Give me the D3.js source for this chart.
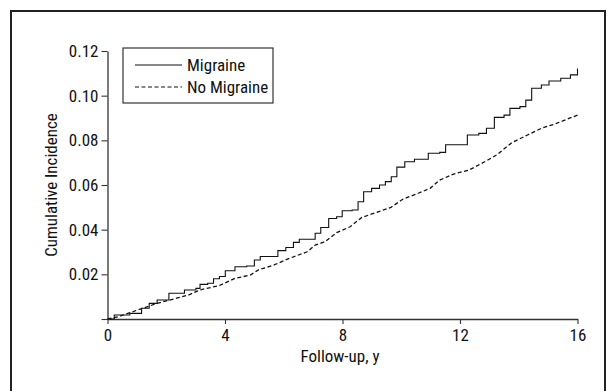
<!DOCTYPE html>
<html><head><meta charset="utf-8">
<script src="https://cdn.jsdelivr.net/npm/d3@7/dist/d3.min.js"></script>
<style>
body{margin:0;background:#fff;overflow:hidden;}
svg{display:block;}
text{font-family:"Liberation Sans Narrow","Arial Narrow","Nimbus Sans Narrow","Roboto Condensed","Liberation Sans",sans-serif;fill:#111;}
</style></head><body>
<script>
const seriesNames = ["Migraine", "No Migraine"];
const migraineX = [0,0.23,0.76,1.16,1.42,1.69,2.09,2.62,3.01,3.15,3.41,3.61,3.81,4.01,4.34,4.74,5.0,5.2,5.6,5.8,6.07,6.33,6.53,6.87,7.07,7.26,7.53,7.8,7.99,8.33,8.53,8.72,8.99,9.26,9.46,9.66,9.85,10.12,10.45,10.92,11.31,11.51,12.25,12.64,12.9,13.17,13.5,13.7,14.04,14.24,14.44,14.77,15.03,15.43,15.76,16.0];
const migraineY = [0,0.0018,0.0025,0.0048,0.007,0.0085,0.0115,0.013,0.0137,0.0155,0.016,0.018,0.019,0.0216,0.0234,0.0237,0.0264,0.028,0.028,0.0306,0.032,0.0343,0.0357,0.0357,0.0384,0.041,0.045,0.0458,0.0485,0.0488,0.0525,0.057,0.0585,0.06,0.0615,0.0637,0.068,0.0704,0.0715,0.0742,0.0746,0.078,0.0824,0.0831,0.0854,0.0903,0.0913,0.0943,0.0951,0.098,0.1033,0.1048,0.1066,0.1078,0.1093,0.1122];
const noMigraineX = [0,0.36,1.02,1.69,2.35,2.75,3.15,3.81,4.34,4.87,5.14,5.67,6.2,6.8,7.07,7.4,7.8,8.26,8.66,9.13,9.65,10.05,10.58,10.98,11.31,11.78,12.31,12.84,13.24,13.77,14.3,14.77,15.23,16.0];
const noMigraineY = [0,0.001,0.004,0.007,0.0093,0.0107,0.013,0.015,0.0182,0.0197,0.022,0.0242,0.0272,0.0301,0.0331,0.0346,0.0387,0.0413,0.0455,0.0476,0.05,0.0536,0.0563,0.0585,0.0622,0.0649,0.0667,0.0704,0.0734,0.079,0.0824,0.0854,0.0873,0.0913];
const xTicks = [0,4,8,12,16];
const yTicks = [0,0.02,0.04,0.06,0.08,0.10,0.12];
const xLabel = "Follow-up, y";
const yLabel = "Cumulative Incidence";

const W = 612, H = 391;
const svg = d3.select("body").append("svg").attr("width", W).attr("height", H);

// outer frame
svg.append("rect").attr("x", 11).attr("y", 11).attr("width", 594).attr("height", 420)
  .attr("fill", "none").attr("stroke", "#222").attr("stroke-width", 2);

const x = d3.scaleLinear().domain([0,16]).range([107.5, 577.5]);
const y = d3.scaleLinear().domain([0,0.12]).range([319, 51]);

const FONT = '"Liberation Sans Narrow","Arial Narrow","Roboto Condensed",sans-serif';
const xAxis = svg.append("g").attr("transform", "translate(0,319)")
  .call(d3.axisBottom(x).tickValues(xTicks).tickFormat(d3.format("d")).tickSize(5).tickPadding(5).tickSizeOuter(0));
const yAxis = svg.append("g").attr("transform", "translate(107.5,0)")
  .call(d3.axisLeft(y).tickValues(yTicks).tickFormat(d => d === 0 ? "" : d3.format(".2f")(d)).tickSize(6).tickPadding(3).tickSizeOuter(0));
[xAxis, yAxis].forEach(g => {
  g.selectAll("path.domain").attr("stroke", "#333").attr("stroke-width", 1.3);
  g.selectAll(".tick line").attr("stroke", "#333").attr("stroke-width", 1.1);
  g.selectAll("text").attr("font-size", 17).attr("fill", "#111").style("font-family", FONT);
});

const mig = migraineX.map((v,i) => [v, migraineY[i]]);
const nomig = noMigraineX.map((v,i) => [v, noMigraineY[i]]);

svg.append("path").datum(mig)
  .attr("d", d3.line().x(d => x(d[0])).y(d => y(d[1])).curve(d3.curveStepAfter))
  .attr("fill", "none").attr("stroke", "#111").attr("stroke-width", 1.1);
svg.append("path").datum(nomig)
  .attr("d", d3.line().x(d => x(d[0])).y(d => y(d[1])).curve(d3.curveLinear))
  .attr("fill", "none").attr("stroke", "#111").attr("stroke-width", 1.3).attr("stroke-dasharray", "4,2.5");

// axis titles
svg.append("text").attr("x", 340).attr("y", 362).attr("text-anchor", "middle").attr("font-size", 17).text(xLabel);
svg.append("text").attr("transform", "translate(57,185) rotate(-90)").attr("text-anchor", "middle").attr("font-size", 17).text(yLabel);

// legend
const lg = svg.append("g");
lg.append("rect").attr("x", 123).attr("y", 48).attr("width", 150).attr("height", 55)
  .attr("fill", "#fff").attr("stroke", "#333").attr("stroke-width", 1.2);
const dashes = [null, "4,2.5"];
seriesNames.forEach((n, i) => {
  const yy = 65 + i * 22;
  lg.append("line").attr("x1", 135).attr("x2", 182).attr("y1", yy).attr("y2", yy)
    .attr("stroke", "#111").attr("stroke-width", 1.1).attr("stroke-dasharray", dashes[i]);
  lg.append("text").attr("x", 187).attr("y", yy + 6).attr("font-size", 17).text(n);
});
</script>
</body></html>
